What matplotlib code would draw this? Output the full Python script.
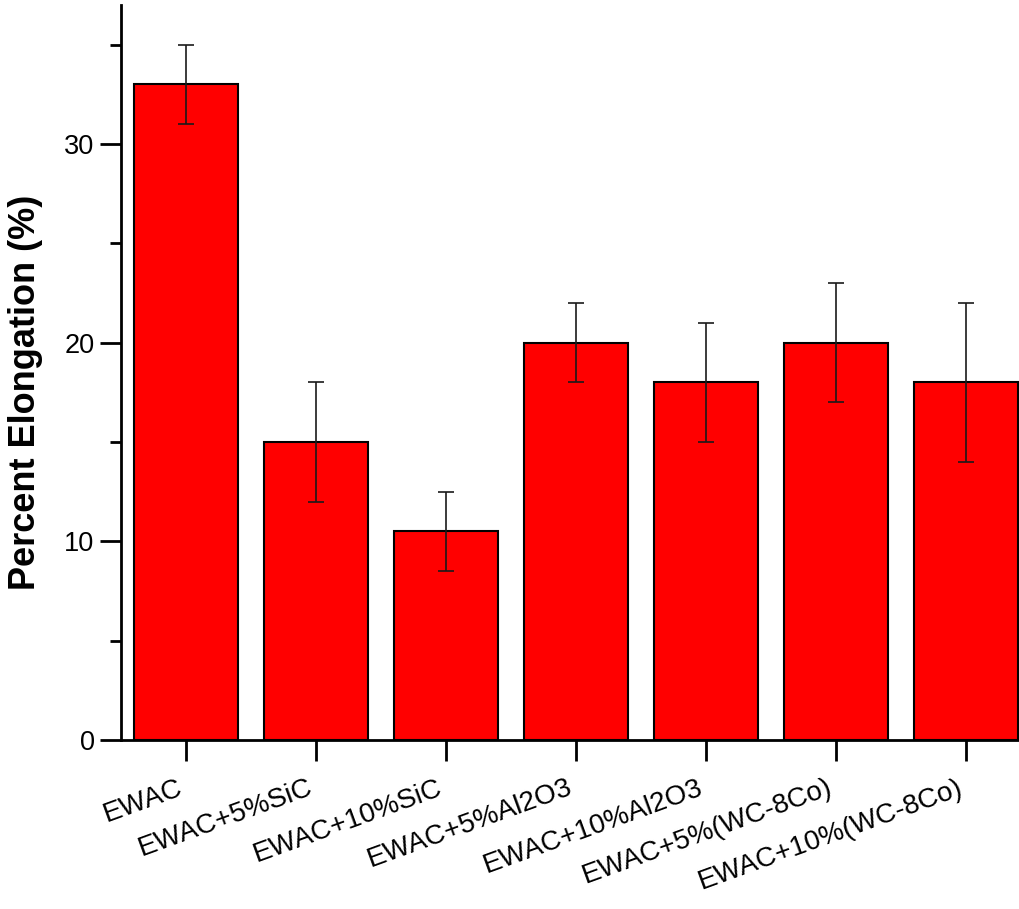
import matplotlib
matplotlib.use("Agg")
import matplotlib.pyplot as plt
from matplotlib.ticker import MultipleLocator

categories = ["EWAC", "EWAC+5%SiC", "EWAC+10%SiC", "EWAC+5%Al2O3",
              "EWAC+10%Al2O3", "EWAC+5%(WC-8Co)", "EWAC+10%(WC-8Co)"]
elongation = [33, 15, 10.5, 20, 18, 20, 18]
errors = [2, 3, 2, 2, 3, 3, 4]

plt.rcParams["font.family"] = ["Liberation Sans", "DejaVu Sans"]

W, H = 1019, 909
fig = plt.figure(figsize=(W / 100, H / 100), dpi=100)
x0, y0 = 121, 740
ytop = 5
step = 130
ax_w = 7 * step
ax = fig.add_axes([x0 / W, (H - y0) / H, ax_w / W, (y0 - ytop) / H])

pos = list(range(len(categories)))
ax.bar(pos, elongation, width=0.8, color="#ff0000", edgecolor="black",
       linewidth=1.5, zorder=2)
ax.errorbar(pos, elongation, yerr=errors, fmt="none", ecolor="#1a1a1a",
            elinewidth=1.2, capsize=5.5, capthick=1.2, zorder=3)

ax.set_xlim(-0.5, 6.5)
ax.set_ylim(0, 37)
ax.yaxis.set_major_locator(MultipleLocator(10))
ax.yaxis.set_minor_locator(MultipleLocator(5))
ax.set_xticks(pos)
ax.set_xticklabels(categories, rotation=20, ha="right", fontsize=20)
ax.tick_params(axis="y", which="major", length=15, width=2, labelsize=19.5,
               direction="out", pad=4)
ax.tick_params(axis="y", which="minor", length=8, width=2, direction="out")
ax.tick_params(axis="x", which="major", length=15, width=2, direction="out",
               pad=10)

for side in ("top", "right"):
    ax.spines[side].set_visible(False)
for side in ("left", "bottom"):
    ax.spines[side].set_linewidth(2)

ax.set_ylabel("Percent Elongation (%)", fontsize=26, fontweight="bold")
ax.yaxis.set_label_coords((43 - x0) / ax_w, (y0 - 392) / (y0 - ytop))

fig.savefig("out.png", dpi=100)
